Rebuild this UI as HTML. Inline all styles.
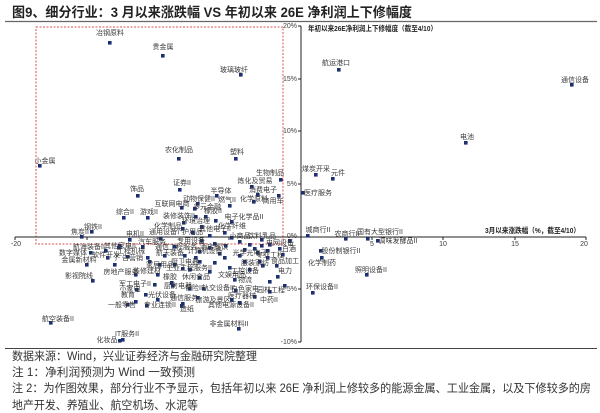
<!DOCTYPE html>
<html><head><meta charset="utf-8"><style>
html,body{margin:0;padding:0;background:#fff;}
svg{display:block;font-family:"Liberation Sans","Noto Sans CJK SC",sans-serif;}
.l{font-size:7px;fill:#3a3a3a;text-anchor:middle;dominant-baseline:middle;}
.t{font-size:7px;fill:#444;dominant-baseline:middle;}
</style></head><body>
<svg width="600" height="413" viewBox="0 0 600 413" xmlns="http://www.w3.org/2000/svg">
<rect width="600" height="413" fill="#fff"/>
<!-- title -->
<text x="12" y="17" font-size="13.5" font-weight="bold" fill="#222" textLength="400" lengthAdjust="spacingAndGlyphs">图9、细分行业：3 月以来涨跌幅 VS 年初以来 26E 净利润上下修幅度</text>
<line x1="5" y1="21.5" x2="597" y2="21.5" stroke="#666" stroke-width="1.2"/>

<!-- red dashed box -->
<rect x="36" y="27" width="247" height="217" fill="none" stroke="#d9534f" stroke-width="1" stroke-dasharray="2,1.5"/>

<!-- axes -->
<line x1="15" y1="237" x2="586" y2="237" stroke="#222" stroke-width="1"/>
<line x1="301" y1="26" x2="301" y2="342" stroke="#222" stroke-width="1"/>
<g stroke="#222" stroke-width="1">
<line x1="298" y1="26" x2="301" y2="26"/><line x1="298" y1="79" x2="301" y2="79"/><line x1="298" y1="131" x2="301" y2="131"/><line x1="298" y1="184" x2="301" y2="184"/><line x1="298" y1="237" x2="301" y2="237"/><line x1="298" y1="289" x2="301" y2="289"/><line x1="298" y1="342" x2="301" y2="342"/>
<line x1="15" y1="237" x2="15" y2="240"/><line x1="87" y1="237" x2="87" y2="240"/><line x1="158" y1="237" x2="158" y2="240"/><line x1="229" y1="237" x2="229" y2="240"/><line x1="372" y1="237" x2="372" y2="240"/><line x1="443" y1="237" x2="443" y2="240"/><line x1="515" y1="237" x2="515" y2="240"/><line x1="586" y1="237" x2="586" y2="240"/>
</g>
<g class="t" text-anchor="end" style="text-anchor:end">
<text x="297" y="26" text-anchor="end">20%</text>
<text x="297" y="79" text-anchor="end">15%</text>
<text x="297" y="131" text-anchor="end">10%</text>
<text x="297" y="184" text-anchor="end">5%</text>
<text x="297" y="236" text-anchor="end">0%</text>
<text x="297" y="289" text-anchor="end">-5%</text>
<text x="297" y="342" text-anchor="end">-10%</text>
</g>
<g class="l">
<text x="16" y="244">-20</text>
<text x="372" y="244">5</text>
<text x="443" y="244">10</text>
<text x="515" y="244">15</text>
<text x="584" y="244">20</text>
</g>
<text x="308" y="29" font-size="7.2" font-weight="bold" fill="#222" dominant-baseline="middle" textLength="129" lengthAdjust="spacingAndGlyphs">年初以来26E净利润上下修幅度（截至4/10）</text>
<text x="485" y="231" font-size="7.2" font-weight="bold" fill="#222" dominant-baseline="middle" textLength="95" lengthAdjust="spacingAndGlyphs">3月以来涨跌幅（%，截至4/10）</text>

<!-- markers -->
<g fill="#1c2f6e">
<rect x="108" y="41" width="3.6" height="3.6"/><rect x="161" y="54" width="3.6" height="3.6"/><rect x="239" y="73" width="3.6" height="3.6"/><rect x="337" y="68" width="3.6" height="3.6"/><rect x="570" y="83" width="3.6" height="3.6"/><rect x="464" y="141" width="3.6" height="3.6"/><rect x="177" y="157" width="3.6" height="3.6"/><rect x="234" y="157" width="3.6" height="3.6"/><rect x="38" y="164" width="3.6" height="3.6"/><rect x="279" y="178" width="3.6" height="3.6"/><rect x="314" y="173" width="3.6" height="3.6"/><rect x="331" y="177" width="3.6" height="3.6"/><rect x="301" y="191" width="3.6" height="3.6"/><rect x="178" y="188" width="3.6" height="3.6"/><rect x="136" y="194" width="3.6" height="3.6"/><rect x="250" y="185" width="3.6" height="3.6"/><rect x="215" y="194" width="3.6" height="3.6"/><rect x="256" y="193" width="3.6" height="3.6"/><rect x="196" y="202" width="3.6" height="3.6"/><rect x="228" y="204" width="3.6" height="3.6"/><rect x="252" y="200" width="3.6" height="3.6"/><rect x="277" y="194" width="3.6" height="3.6"/><rect x="180" y="206" width="3.6" height="3.6"/><rect x="193" y="207" width="3.6" height="3.6"/><rect x="122" y="216" width="3.6" height="3.6"/><rect x="146" y="216" width="3.6" height="3.6"/><rect x="194" y="215" width="3.6" height="3.6"/><rect x="204" y="215" width="3.6" height="3.6"/><rect x="230" y="220" width="3.6" height="3.6"/><rect x="182" y="221" width="3.6" height="3.6"/><rect x="181" y="227" width="3.6" height="3.6"/><rect x="214" y="219" width="3.6" height="3.6"/><rect x="200" y="225" width="3.6" height="3.6"/><rect x="191" y="231" width="3.6" height="3.6"/><rect x="159" y="237" width="3.6" height="3.6"/><rect x="128" y="238" width="3.6" height="3.6"/><rect x="80" y="235" width="3.6" height="3.6"/><rect x="90" y="230" width="3.6" height="3.6"/>
<rect x="230" y="236" width="3.6" height="3.6"/><rect x="260" y="238" width="3.6" height="3.6"/><rect x="288" y="239" width="3.6" height="3.6"/>
<rect x="104" y="249" width="3.6" height="3.6"/><rect x="118" y="244" width="3.6" height="3.6"/><rect x="141" y="245" width="3.6" height="3.6"/><rect x="117" y="246" width="3.6" height="3.6"/><rect x="173" y="245" width="3.6" height="3.6"/><rect x="200" y="239" width="3.6" height="3.6"/><rect x="213" y="242" width="3.6" height="3.6"/><rect x="224" y="244" width="3.6" height="3.6"/><rect x="248" y="243" width="3.6" height="3.6"/><rect x="260" y="244" width="3.6" height="3.6"/><rect x="268" y="243" width="3.6" height="3.6"/><rect x="278" y="247" width="3.6" height="3.6"/><rect x="238" y="240" width="3.6" height="3.6"/><rect x="253" y="247" width="3.6" height="3.6"/><rect x="266" y="249" width="3.6" height="3.6"/>
<rect x="89" y="251" width="3.6" height="3.6"/><rect x="106" y="256" width="3.6" height="3.6"/><rect x="85" y="263" width="3.6" height="3.6"/><rect x="126" y="255" width="3.6" height="3.6"/><rect x="146" y="256" width="3.6" height="3.6"/><rect x="163" y="254" width="3.6" height="3.6"/><rect x="183" y="254" width="3.6" height="3.6"/><rect x="198" y="250" width="3.6" height="3.6"/><rect x="218" y="252" width="3.6" height="3.6"/><rect x="238" y="254" width="3.6" height="3.6"/><rect x="256" y="251" width="3.6" height="3.6"/><rect x="266" y="256" width="3.6" height="3.6"/><rect x="281" y="253" width="3.6" height="3.6"/><rect x="148" y="260" width="3.6" height="3.6"/><rect x="173" y="263" width="3.6" height="3.6"/><rect x="198" y="260" width="3.6" height="3.6"/><rect x="213" y="261" width="3.6" height="3.6"/><rect x="243" y="260" width="3.6" height="3.6"/><rect x="261" y="264" width="3.6" height="3.6"/><rect x="181" y="267" width="3.6" height="3.6"/><rect x="228" y="266" width="3.6" height="3.6"/><rect x="248" y="268" width="3.6" height="3.6"/><rect x="134" y="273" width="3.6" height="3.6"/><rect x="156" y="273" width="3.6" height="3.6"/><rect x="91" y="279" width="3.6" height="3.6"/><rect x="170" y="281" width="3.6" height="3.6"/><rect x="198" y="276" width="3.6" height="3.6"/><rect x="233" y="278" width="3.6" height="3.6"/><rect x="276" y="275" width="3.6" height="3.6"/><rect x="153" y="283" width="3.6" height="3.6"/><rect x="171" y="284" width="3.6" height="3.6"/><rect x="188" y="287" width="3.6" height="3.6"/><rect x="202" y="287" width="3.6" height="3.6"/><rect x="234" y="289" width="3.6" height="3.6"/><rect x="268" y="290" width="3.6" height="3.6"/><rect x="135" y="288" width="3.6" height="3.6"/><rect x="134" y="300" width="3.6" height="3.6"/><rect x="144" y="293" width="3.6" height="3.6"/><rect x="156" y="298" width="3.6" height="3.6"/><rect x="181" y="302" width="3.6" height="3.6"/><rect x="196" y="296" width="3.6" height="3.6"/><rect x="230" y="298" width="3.6" height="3.6"/><rect x="253" y="295" width="3.6" height="3.6"/><rect x="126" y="303" width="3.6" height="3.6"/><rect x="145" y="304" width="3.6" height="3.6"/><rect x="180" y="304" width="3.6" height="3.6"/><rect x="238" y="301" width="3.6" height="3.6"/><rect x="49" y="321" width="3.6" height="3.6"/><rect x="237" y="327" width="3.6" height="3.6"/><rect x="118" y="339" width="3.6" height="3.6"/><rect x="121" y="338" width="3.6" height="3.6"/>
<rect x="306" y="234" width="3.6" height="3.6"/><rect x="344" y="237" width="3.6" height="3.6"/><rect x="366" y="237" width="3.6" height="3.6"/><rect x="376" y="239" width="3.6" height="3.6"/><rect x="319" y="249" width="3.6" height="3.6"/><rect x="320" y="256" width="3.6" height="3.6"/><rect x="365" y="273" width="3.6" height="3.6"/><rect x="311" y="291" width="3.6" height="3.6"/>
<rect x="223" y="231" width="3.6" height="3.6"/><rect x="208" y="234" width="3.6" height="3.6"/><rect x="158" y="263" width="3.6" height="3.6"/><rect x="188" y="268" width="3.6" height="3.6"/><rect x="208" y="270" width="3.6" height="3.6"/><rect x="258" y="260" width="3.6" height="3.6"/><rect x="275" y="264" width="3.6" height="3.6"/><rect x="283" y="284" width="3.6" height="3.6"/><rect x="113" y="263" width="3.6" height="3.6"/><rect x="268" y="280" width="3.6" height="3.6"/><rect x="208" y="246" width="3.6" height="3.6"/><rect x="223" y="256" width="3.6" height="3.6"/><rect x="194" y="256" width="3.6" height="3.6"/><rect x="243" y="248" width="3.6" height="3.6"/>
</g>

<!-- point labels -->
<g class="l">
<text x="110" y="33">冶钢原料</text>
<text x="163" y="47">贵金属</text>
<text x="234" y="70">玻璃玻纤</text>
<text x="336" y="63">航运港口</text>
<text x="575" y="80">通信设备</text>
<text x="467" y="137">电池</text>
<text x="179" y="150">农化制品</text>
<text x="237" y="152">塑料</text>
<text x="45" y="161">小金属</text>
<text x="270" y="173">生物制品</text>
<text x="316" y="169">煤炭开采</text>
<text x="338" y="173">元件</text>
<text x="318" y="193">医疗服务</text>
<text x="182" y="183">证券II</text>
<text x="137" y="189">饰品</text>
<text x="255" y="181">炼化及贸易</text>
<text x="221" y="191">半导体</text>
<text x="263" y="190">消费电子</text>
<text x="199" y="199">动物保健II</text>
<text x="227" y="200">燃气II</text>
<text x="254" y="199">化学原料</text>
<text x="273" y="201">商用车</text>
<text x="172" y="204">互联网电商</text>
<text x="207" y="207">多元金融</text>
<text x="125" y="212">综合II</text>
<text x="149" y="212">游戏II</text>
<text x="179" y="216">装修装饰II</text>
<text x="213" y="211">橡胶II</text>
<text x="244" y="217">电子化学品II</text>
<text x="196" y="221">环境治理</text>
<text x="168" y="226">化学制品</text>
<text x="232" y="226">化学纤维</text>
<text x="215" y="229">其他电子II</text>
<text x="189" y="232">个护用品</text>
<text x="163" y="232">通用设备</text>
<text x="135" y="234">电机II</text>
<text x="80" y="232">焦炭II</text>
<text x="93" y="227">钢铁II</text>
<text x="240" y="236">小商品</text>
<text x="262" y="236">饮料乳品</text>
<text x="280" y="243">电网设备</text>
<text x="89" y="247">航海装备II</text>
<text x="120" y="246">其他家电II</text>
<text x="152" y="242">汽车服务</text>
<text x="131" y="251">工程机械</text>
<text x="176" y="247">通信工程服务</text>
<text x="191" y="241">专用设备</text>
<text x="214" y="247">酒店餐饮</text>
<text x="289" y="249">白酒</text>
<text x="73" y="253">数字媒体</text>
<text x="106" y="255">软件开发</text>
<text x="79" y="260">金属新材料</text>
<text x="129" y="258">广告营销</text>
<text x="170" y="253">航天装备</text>
<text x="205" y="251">计算机设备</text>
<text x="250" y="253">光学光电子</text>
<text x="270" y="255">专业工程</text>
<text x="285" y="261">食品加工</text>
<text x="160" y="265">家居用品</text>
<text x="185" y="262">厨卫电器</text>
<text x="255" y="263">服装家纺</text>
<text x="189" y="268">工业工程服务II</text>
<text x="245" y="271">工控设备</text>
<text x="232" y="275">文娱用品</text>
<text x="121" y="272">房地产服务</text>
<text x="147" y="271">装修建材</text>
<text x="79" y="276">影视院线</text>
<text x="170" y="277">橡胶</text>
<text x="196" y="277">休闲食品</text>
<text x="245" y="280">物流</text>
<text x="285" y="271">电力</text>
<text x="135" y="284">军工电子II</text>
<text x="178" y="286">厨房电器</text>
<text x="194" y="288">保险II</text>
<text x="218" y="288">轨交设备II</text>
<text x="245" y="289">白色家电</text>
<text x="271" y="290">园林工程</text>
<text x="130" y="289">小家电</text>
<text x="128" y="295">教育</text>
<text x="162" y="295">光伏设备</text>
<text x="184" y="298">通信服务</text>
<text x="213" y="300">旅游及景区</text>
<text x="242" y="296">医疗器械</text>
<text x="269" y="300">中药II</text>
<text x="122" y="305">一般零售</text>
<text x="160" y="305">专业连锁II</text>
<text x="187" y="309">造纸</text>
<text x="231" y="305">其他电源设备II</text>
<text x="58" y="319">航空装备II</text>
<text x="229" y="324">非金属材料II</text>
<text x="107" y="340">化妆品</text>
<text x="127" y="334">IT服务II</text>
<text x="318" y="230">城商行II</text>
<text x="347" y="234">农商行II</text>
<text x="380" y="232">国有大型银行II</text>
<text x="398" y="241">调味发酵品II</text>
<text x="341" y="251">股份制银行II</text>
<text x="322" y="263">化学制药</text>
<text x="371" y="270">照明设备II</text>
<text x="322" y="287">环保设备II</text>
</g>

<!-- notes -->
<line x1="5" y1="348.5" x2="597" y2="348.5" stroke="#444" stroke-width="1"/>
<g font-size="11.5" fill="#333">
<text x="12" y="360" textLength="245" lengthAdjust="spacingAndGlyphs">数据来源：Wind，兴业证券经济与金融研究院整理</text>
<text x="12" y="376" textLength="183" lengthAdjust="spacingAndGlyphs">注 1：净利润预测为 Wind 一致预测</text>
<text x="12" y="392" textLength="579" lengthAdjust="spacingAndGlyphs">注 2：为作图效果，部分行业不予显示，包括年初以来 26E 净利润上修较多的能源金属、工业金属，以及下修较多的房</text>
<text x="12" y="409" textLength="186" lengthAdjust="spacingAndGlyphs">地产开发、养殖业、航空机场、水泥等</text>
</g>
</svg>
</body></html>
